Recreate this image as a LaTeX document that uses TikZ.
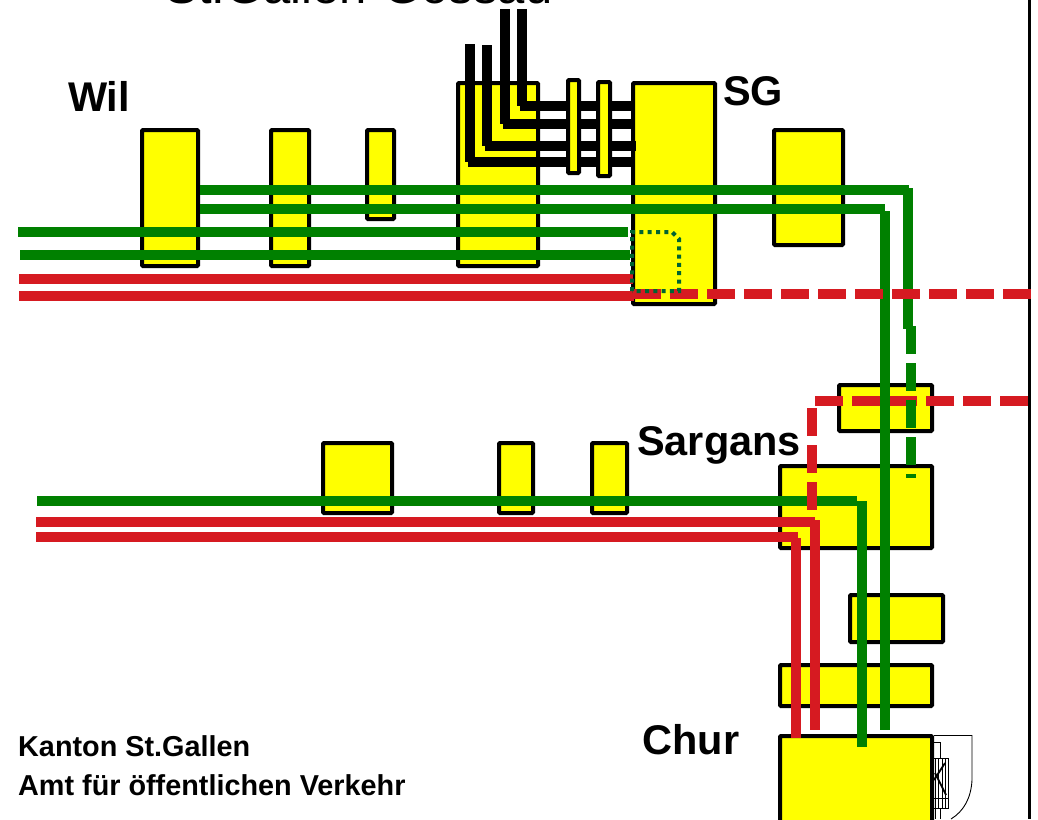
\documentclass[tikz,border=0pt]{standalone}
\usepackage{fontspec}
\setmainfont{Liberation Sans}
\usepackage{xcolor}
\definecolor{gelb}{RGB}{255,255,0}
\definecolor{gruen}{RGB}{0,128,0}
\definecolor{rot}{RGB}{214,26,33}
\definecolor{punkt}{RGB}{0,100,50}
\tikzset{
  stn/.style={draw,line width=4pt,fill=gelb,rounded corners=1pt,inner sep=0pt,anchor=north west},
  gleis/.style={line width=10pt},
  gr/.style={gleis,gruen},
  rt/.style={gleis,rot},
  sw/.style={gleis,black},
  gedash/.style={dash pattern=on 28pt off 9pt},
  gross/.style={font=\fontsize{41.5}{44}\selectfont\bfseries,inner sep=0pt},
  klein/.style={font=\fontsize{28.8}{30}\selectfont\bfseries,inner sep=0pt,anchor=west},
  wappen/.style={line width=0.9pt},
}
% box with its outer edges given in pixels
\newcommand{\stnbox}[5]{\node[stn,minimum width=#4pt-#2pt-4pt,minimum height=#5pt-#3pt-4pt] (#1) at (#2,#3) {};}
\begin{document}
\begin{tikzpicture}[x=1pt,y=-1pt]
    \useasboundingbox (0,0) rectangle (1038,819);
    \clip (0,0) rectangle (1038,819);
    % line ends
    \coordinate (wA) at (18,232);
    \coordinate (wB) at (20,255);
    \coordinate (wC) at (19,279);
    \coordinate (wD) at (19,296);
    \coordinate (sA) at (37,501);
    \coordinate (sB) at (36,522);
    \coordinate (sC) at (36,537);
    \coordinate (rand) at (1029,0);
    \coordinate (randu) at (1029,819);

    % stations, upper line
    \stnbox{wil}{140}{128}{200}{268}
    \stnbox{uzwil}{269}{128}{311}{268}
    \stnbox{flawil}{365}{128}{396}{221}
    \stnbox{gossau}{456}{81}{540}{268}
    \stnbox{sg}{631}{81}{717}{306}
    \stnbox{rorschach}{772}{128}{845}{247}
    % stations, lower line
    \stnbox{zra}{321}{441}{394}{515}
    \stnbox{zrb}{497}{441}{535}{515}
    \stnbox{zrc}{590}{441}{629}{515}
    \stnbox{buchs}{837}{383}{934}{433}
    \stnbox{sargans}{778}{464}{934}{550}
    \stnbox{landquart}{848}{593}{945}{644}
    \stnbox{zizers}{778}{663}{934}{708}
    \stnbox{chur}{778}{734}{934}{830}

    \draw[line width=3pt] (rand) -- (randu);

    % black lines to Gossau
    \foreach \x/\ytop/\y/\xend in {522/9/106/633,505/9/124/633,487/45/146/636,470/44/162/633}{
      \coordinate (top) at (\x,\ytop);
      \coordinate (eck) at (\x,\y);
      \draw[sw] (top) -- (eck);
      \draw[sw] ([xshift=-2pt]eck) -- (\xend,\y);
    }
    \stnbox{sga}{566}{78}{581}{175}
    \stnbox{sgb}{596}{80}{612}{178}

    % red lines
    \draw[rt] (wC) -- (633,279);
    \draw[rt] (wD) -- (634,296);
    \draw[rt,gedash] (1028,401) -- (814,401);
    \draw[rt] (sB) -- (815,522);
    \draw[rt] (815,520) -- (815,730);
    \draw[rt] (sC) -- (798,537);
    \draw[rt] (796,538) -- (796,738);

    % green lines
    \draw[gr] (wA) -- (628,232);
    \draw[gr] (wB) -- (630,255);
    \draw[gr] (wil.east |- 0,190) -- (909,190);
    \draw[gr] (908,188) -- (908,329);
    \draw[gr,dash pattern=on 27.5pt off 9.5pt] (911,326) -- (911,478);
    \draw[gr] (wil.east |- 0,209) -- (885,209);
    \draw[gr] (885,211) -- (885,730);
    \draw[gr] (sA) -- (857,501);
    \draw[gr] (862,501) -- (862,747);

    % red dashes on top
    \draw[rt,gedash] (633,294) -- (1031,294);
    \draw[rt,gedash] (812,408) -- (812,510);
    \draw[punkt,line width=4pt,dash pattern=on 4pt off 4.3pt] (632,291) -- (632,232) -- (672,232) -- (679,239) -- (679,291) -- cycle;

    % shield
    \draw[wappen] (934,735.5) -- (972,735.5) -- (972,780) .. controls (971,798) and (964,811) .. (951,819);
    \foreach \x in {935,938,942,945}{
      \draw[wappen] (\x,758) -- (\x,808);
    }
    \draw[wappen] (934,742) -- (940,742) -- (940,758);
    \draw[wappen] (934,758) -- (948,758) -- (948,808) -- (934,808);
    \draw[line width=1.8pt] (934,780) -- (945,763);
    \draw[line width=1.8pt] (935,773) -- (946,795);
    \draw[wappen] (934,798) -- (948,798);
    \draw[wappen] (935,808) -- (935,819);
    \draw[wappen] (940,808) -- (940,819);

    % labels
    \node[font=\fontsize{49}{54}\selectfont,inner sep=0pt] (titel) at (359,-14) {St.Gallen-Gossau};
    \node[gross] (lwil) at (99,96) {Wil};
    \node[gross] (lsg) at (753,91) {SG};
    \node[gross] (lsargans) at (719,445) {Sargans};
    \node[gross] (lchur) at (691,740) {Chur};
    \node[klein] (kanton) at (18,746) {Kanton St.Gallen};
    \node[klein] (amt) at (18,785) {Amt für öffentlichen Verkehr};
\end{tikzpicture}
\end{document}
